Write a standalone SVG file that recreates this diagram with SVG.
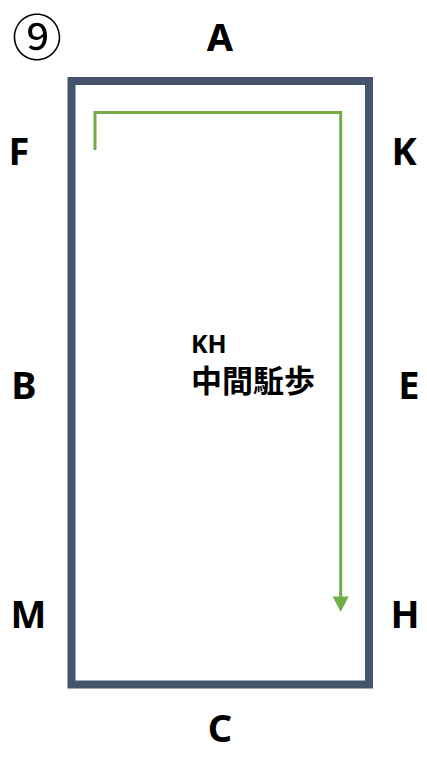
<svg xmlns="http://www.w3.org/2000/svg" width="427" height="758" viewBox="0 0 427 758">
<style>
.lbl{font-family:"Noto Sans","Liberation Sans",sans-serif;font-weight:bold;font-size:38px;fill:#000;text-anchor:middle}
.cjk{font-family:"Noto Sans","Noto Sans CJK JP",sans-serif;font-weight:bold;fill:#000}
</style>
<rect width="427" height="758" fill="#fff"/>
<g id="arena"><rect x="71.5" y="81" width="297.5" height="603.5" fill="none" stroke="#44546a" stroke-width="8"/></g>
<g id="num"><text x="37" y="56" font-family="'Noto Sans CJK JP',sans-serif" font-size="50" text-anchor="middle">⑨</text></g>
<g id="A"><text class="lbl" x="220" y="51">A</text></g>
<g id="F"><text class="lbl" x="19" y="165">F</text></g>
<g id="K"><text class="lbl" x="404" y="165">K</text></g>
<g id="B"><text class="lbl" x="24" y="399">B</text></g>
<g id="E"><text class="lbl" x="409" y="399">E</text></g>
<g id="M"><text class="lbl" x="28.5" y="628">M</text></g>
<g id="H"><text class="lbl" x="405" y="628">H</text></g>
<g id="C"><text class="lbl" x="220" y="742">C</text></g>
<g id="title">
<text class="cjk" x="191" y="353" font-size="25">KH</text>
<text class="cjk" x="191" y="392" font-size="31">中間駈歩</text>
</g>
<g id="connectors">
<path d="M95,150 V112.5 H340.7 V597" fill="none" stroke="#70ad47" stroke-width="3"/>
<path d="M332.7,596.5 L348.7,596.5 L340.7,612 Z" fill="#70ad47"/>
</g>
</svg>
